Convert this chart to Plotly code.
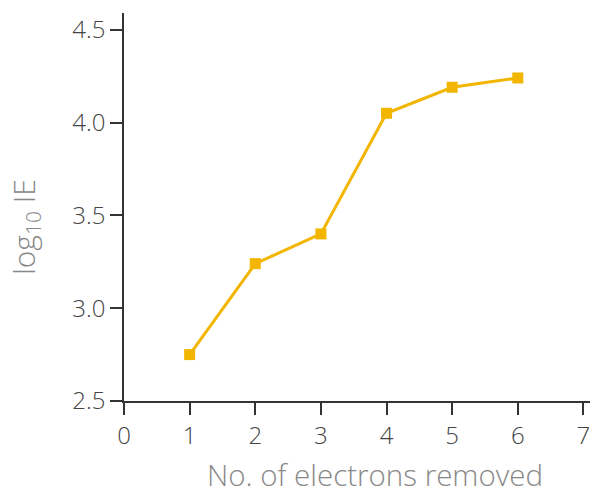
import plotly.graph_objects as go

electrons = [1, 2, 3, 4, 5, 6]
log_ie = [2.75, 3.24, 3.40, 4.05, 4.19, 4.24]
x_ticks = [0, 1, 2, 3, 4, 5, 6, 7]
y_ticks = [2.5, 3.0, 3.5, 4.0, 4.5]
y_tick_text = ["2.5", "3.0", "3.5", "4.0", "4.5"]

gold = "#f2b500"
fnt = "Open Sans"

fig = go.Figure()
fig.add_trace(go.Scatter(
    x=electrons, y=log_ie, mode="lines+markers",
    line=dict(color=gold, width=3),
    marker=dict(symbol="square", size=11, color=gold),
    showlegend=False, hoverinfo="skip",
))

fig.update_layout(
    width=590, height=495,
    margin=dict(l=124, r=0, t=13, b=94, autoexpand=False),
    paper_bgcolor="white", plot_bgcolor="white",
    font=dict(family=fnt, color="#444"),
    hovermode=False,
)
fig.update_xaxes(
    range=[0, 7.1], tickvals=x_ticks, ticktext=[str(v) for v in x_ticks],
    showline=True, linecolor="#333", linewidth=1.5,
    ticks="outside", ticklen=12, tickwidth=1.5, tickcolor="#333",
    showgrid=False, zeroline=False, automargin=False,
    ticklabeloverflow="allow",
    tickfont=dict(family=fnt, size=24, color="#444", weight=300),
)
fig.update_yaxes(
    range=[2.5, 4.59], tickvals=y_ticks, ticktext=y_tick_text,
    showline=True, linecolor="#333", linewidth=1.5,
    ticks="outside", ticklen=12, tickwidth=1.5, tickcolor="#333",
    showgrid=False, zeroline=False, automargin=False,
    ticklabeloverflow="allow",
    tickfont=dict(family=fnt, size=24, color="#444", weight=300),
)
fig.add_annotation(
    text="No. of electrons removed", xref="paper", yref="paper",
    x=(375 - 124) / 466, y=-(474 - 401) / 388, xanchor="center", yanchor="middle",
    showarrow=False, font=dict(family=fnt, size=29.5, color="#888", weight=300),
)
fig.add_annotation(
    text="log<sub>10</sub> IE", xref="paper", yref="paper",
    x=-(124 - 25) / 466, y=(401 - 227) / 388, xanchor="center", yanchor="middle",
    textangle=-90, showarrow=False, font=dict(family=fnt, size=30, color="#888", weight=300),
)
fig.write_html(
    "out.html",
    config={"displayModeBar": False},
    post_script="document.body.style.margin='0';document.body.style.overflow='hidden';",
)
